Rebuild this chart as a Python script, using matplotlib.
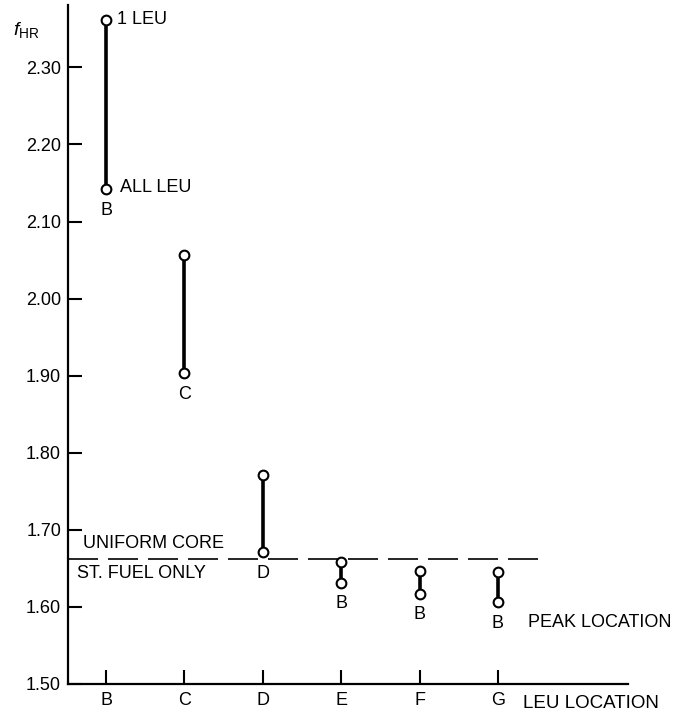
import matplotlib.pyplot as plt

plt.rcParams['font.family'] = ['Liberation Sans', 'DejaVu Sans']
plt.rcParams['mathtext.fontset'] = 'custom'
plt.rcParams['mathtext.rm'] = 'Liberation Sans'
plt.rcParams['mathtext.it'] = 'Liberation Sans:italic'

# hot-rod factor for each LEU location
locations = ['B', 'C', 'D', 'E', 'F', 'G']
one_leu = [2.362, 2.056, 1.771, 1.658, 1.647, 1.645]
all_leu = [2.142, 1.903, 1.671, 1.631, 1.617, 1.606]
peak_location = ['B', 'C', 'D', 'B', 'B', 'B']
uniform_core = 1.662
y_ticks = [1.50, 1.60, 1.70, 1.80, 1.90, 2.00, 2.10, 2.20, 2.30]

fig = plt.figure(figsize=(6.74, 7.15), dpi=100)
ax = fig.add_axes([68 / 674, 31 / 715, 560 / 674, 679 / 715])

x = list(range(len(locations)))
x_left = -0.485
ax.set_xlim(x_left, 6.66)
ax.set_ylim(1.50, 2.381)

# uniform core reference line
ax.plot([x_left, 5.574], [uniform_core, uniform_core], color='black', lw=1.2,
        dashes=(18, 6), zorder=1)

for i in x:
    ax.plot([i, i], [all_leu[i], one_leu[i]], color='black', lw=2.6,
            solid_capstyle='butt', zorder=2)
ax.plot(x, one_leu, 'o', ms=7, mfc='white', mec='black', mew=1.5, zorder=3)
ax.plot(x, all_leu, 'o', ms=7, mfc='white', mec='black', mew=1.5, zorder=3)

fs = 13
for i in x:
    ax.annotate(peak_location[i], (i, all_leu[i]), xytext=(0, -15),
                textcoords='offset points', ha='center', va='center', fontsize=fs)

ax.annotate('1 LEU', (0, one_leu[0]), xytext=(8, 0), textcoords='offset points',
            ha='left', va='center', fontsize=fs)
ax.annotate('ALL LEU', (0, all_leu[0]), xytext=(10, 1.5), textcoords='offset points',
            ha='left', va='center', fontsize=fs)
ax.annotate('UNIFORM CORE', (x_left, uniform_core), xytext=(11, 11.5),
            textcoords='offset points', ha='left', va='center', fontsize=fs)
ax.annotate('ST. FUEL ONLY', (x_left, uniform_core), xytext=(6.5, -10),
            textcoords='offset points', ha='left', va='center', fontsize=fs)
ax.annotate('PEAK LOCATION', (5, all_leu[5]), xytext=(21.5, -14.4),
            textcoords='offset points', ha='left', va='center', fontsize=fs,
            annotation_clip=False)
ax.annotate('LEU LOCATION', (5, 1.50), xytext=(18, -13.7),
            textcoords='offset points', ha='left', va='center', fontsize=13.5,
            annotation_clip=False)

fig.text(13 / 674, 1 - 30 / 715, r'$f_{\mathrm{HR}}$', fontsize=14,
         ha='left', va='center')

ax.set_xticks(x)
ax.set_xticklabels(locations)
ax.set_yticks(y_ticks)
ax.set_yticklabels(['%.2f' % v for v in y_ticks])
ax.tick_params(direction='in', length=10, width=1.5, labelsize=fs)
ax.tick_params(axis='x', pad=6)
ax.tick_params(axis='y', pad=5)

for side in ['top', 'right']:
    ax.spines[side].set_visible(False)
for side in ['left', 'bottom']:
    ax.spines[side].set_linewidth(1.6)

fig.savefig('out.png', dpi=100)
